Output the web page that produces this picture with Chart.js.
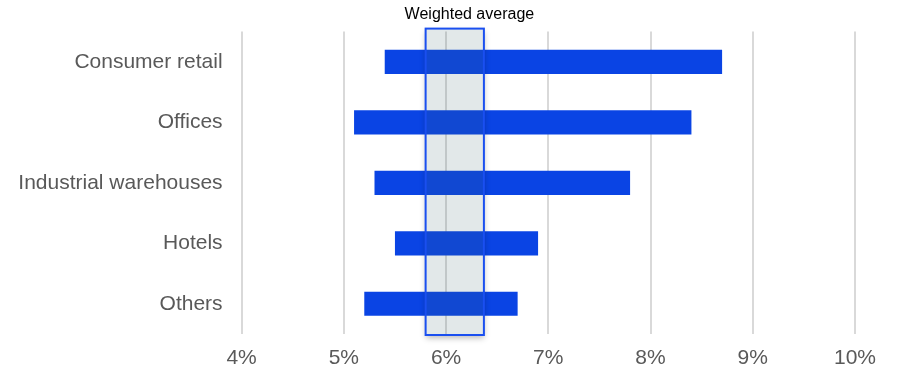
<!DOCTYPE html>
<html>
<head>
<meta charset="utf-8">
<script src="https://cdn.jsdelivr.net/npm/chart.js@4/dist/chart.umd.min.js"></script>
<style>
  html, body { margin: 0; padding: 0; background: #ffffff; }
  #wrap { width: 897px; height: 372px; }
</style>
</head>
<body>
<div id="wrap"><canvas id="chart" width="897" height="372"></canvas></div>
<script>
// Yield ranges by property segment (percent)
const categories = ['Consumer retail', 'Offices', 'Industrial warehouses', 'Hotels', 'Others'];
const rangeLow  = [5.4, 5.1, 5.3, 5.5, 5.2];
const rangeHigh = [8.7, 8.4, 7.8, 6.9, 6.7];

// Weighted average band (percent)
const avgBand = [5.8, 6.37];
const avgLabel = 'Weighted average';

// Axis ticks (percent)
const xTicks = [4, 5, 6, 7, 8, 9, 10];

const FONT = '"Liberation Sans", Arial, Helvetica, sans-serif';

const bandPlugin = {
  id: 'avgBand',
  afterDatasetsDraw(chart) {
    const { ctx, chartArea, scales } = chart;
    const x0 = scales.x.getPixelForValue(avgBand[0]);
    const x1 = scales.x.getPixelForValue(avgBand[1]);
    const top = chartArea.top - 3;
    const bottom = chartArea.bottom + 1;
    const w = x1 - x0, h = bottom - top;

    // soft drop shadow, kept outside the band
    ctx.save();
    ctx.beginPath();
    ctx.rect(0, 0, chart.width, chart.height);
    ctx.rect(x0, top, w, h);
    ctx.clip('evenodd');
    ctx.shadowColor = 'rgba(0,0,0,0.28)';
    ctx.shadowBlur = 6;
    ctx.shadowOffsetY = 3;
    ctx.fillStyle = '#ffffff';
    ctx.fillRect(x0, top, w, h);
    ctx.restore();

    // translucent fill
    ctx.save();
    ctx.fillStyle = 'rgba(60,100,110,0.15)';
    ctx.fillRect(x0, top, w, h);
    ctx.lineWidth = 2;
    ctx.strokeStyle = '#1a4ff0';
    ctx.strokeRect(x0, top, w, h);
    ctx.restore();

    // caption above the band
    ctx.save();
    ctx.font = '16px ' + FONT;
    ctx.fillStyle = '#000000';
    ctx.textAlign = 'left';
    ctx.textBaseline = 'middle';
    ctx.fillText(avgLabel, x0 - 21, 15);
    ctx.restore();
  }
};

new Chart(document.getElementById('chart'), {
  type: 'bar',
  data: {
    labels: categories,
    datasets: [{
      data: categories.map((c, i) => [rangeLow[i], rangeHigh[i]]),
      backgroundColor: '#0a44e4',
      borderWidth: 0,
      borderSkipped: false,
      barPercentage: 0.4,
      categoryPercentage: 1.0
    }]
  },
  options: {
    indexAxis: 'y',
    responsive: false,
    animation: false,
    layout: { padding: { top: 31, right: 42, bottom: 0, left: 0 } },
    plugins: {
      legend: { display: false },
      tooltip: { enabled: false },
      title: { display: false }
    },
    scales: {
      x: {
        min: 4,
        max: 10,
        afterBuildTicks(scale) { scale.ticks = xTicks.map(v => ({ value: v })); },
        afterFit(scale) { scale.height = 38; },
        grid: { color: '#d9d9d9', lineWidth: 2, drawTicks: false },
        border: { display: false },
        ticks: {
          padding: 12,
          color: '#595959',
          font: { family: FONT, size: 21 },
          callback: v => v + '%'
        }
      },
      y: {
        afterFit(scale) { scale.width = 241.6; },
        grid: { display: false, drawTicks: false },
        border: { display: false },
        ticks: {
          padding: 19,
          color: '#595959',
          font: { family: FONT, size: 21 }
        }
      }
    }
  },
  plugins: [bandPlugin]
});
</script>
</body>
</html>
